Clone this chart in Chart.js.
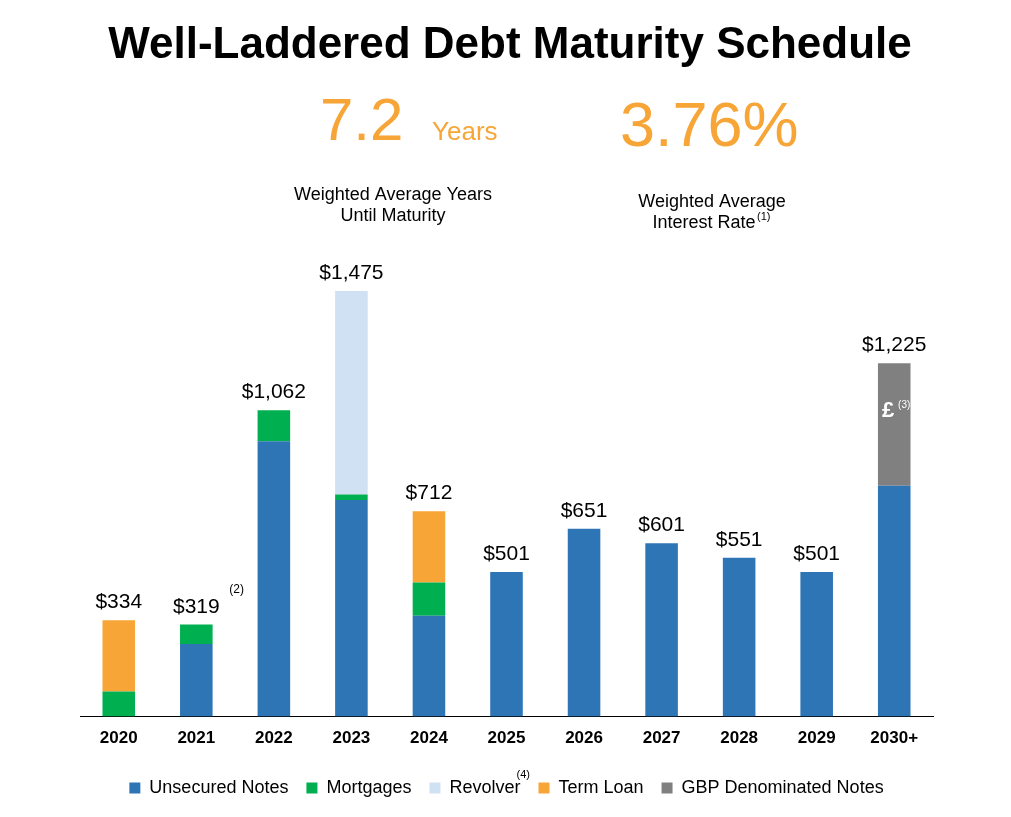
<!DOCTYPE html>
<html><head><meta charset="utf-8">
<script src="https://cdn.jsdelivr.net/npm/chart.js@4/dist/chart.umd.min.js"></script>
<style>html,body{margin:0;background:#fff}#wrap{width:1011px;height:817px}</style>
</head><body><div id="wrap"><canvas id="c"></canvas></div>
<script>
const years = ["2020","2021","2022","2023","2024","2025","2026","2027","2028","2029","2030+"];
const unsecured = [0, 252, 954, 751, 350, 501, 651, 601, 551, 501, 800];
const mortgages = [87, 67, 108, 19, 115, 0, 0, 0, 0, 0, 0];
const revolver = [0, 0, 0, 705, 0, 0, 0, 0, 0, 0, 0];
const termLoan = [247, 0, 0, 0, 247, 0, 0, 0, 0, 0, 0];
const gbp = [0, 0, 0, 0, 0, 0, 0, 0, 0, 0, 425];
const totals = ["$334","$319","$1,062","$1,475","$712","$501","$651","$601","$551","$501","$1,225"];

const FONT = "Arial, 'Liberation Sans', sans-serif";
const ORANGE = "#f7a536";

const overlay = {
  id: "overlay",
  afterDraw(chart) {
    const ctx = chart.ctx;
    ctx.save();
    ctx.fillStyle = "#000";
    ctx.textAlign = "center";
    ctx.textBaseline = "alphabetic";
    ctx.font = "bold 44px " + FONT;
    ctx.fillText("Well-Laddered Debt Maturity Schedule", 510, 58);

    ctx.fillStyle = ORANGE;
    ctx.textAlign = "left";
    ctx.font = "60px " + FONT;
    ctx.fillText("7.2", 320, 140);
    ctx.font = "26px " + FONT;
    ctx.fillText("Years", 432, 140);
    ctx.font = "63px " + FONT;
    ctx.fillText("3.76%", 620, 146);

    ctx.fillStyle = "#000";
    ctx.textAlign = "center";
    ctx.font = "18px " + FONT;
    ctx.fillText("Weighted Average Years", 393, 200);
    ctx.fillText("Until Maturity", 393, 221);
    ctx.fillText("Weighted Average", 712, 207);
    ctx.fillText("Interest Rate", 704, 228);
    ctx.font = "11px " + FONT;
    ctx.textAlign = "left";
    ctx.fillText("(1)", 757, 220);

    const meta = chart.getDatasetMeta(0);
    const y = chart.scales.y;
    ctx.font = "21px " + FONT;
    ctx.textAlign = "center";
    totals.forEach((t, i) => {
      const sum = unsecured[i] + mortgages[i] + revolver[i] + termLoan[i] + gbp[i];
      ctx.fillText(t, meta.data[i].x, y.getPixelForValue(sum) - 12);
    });
    ctx.font = "12px " + FONT;
    ctx.textAlign = "left";
    ctx.fillText("(2)", meta.data[1].x + 33, 593);

    // pound sign on GBP bar
    const gx = meta.data[10].x;
    const gy = y.getPixelForValue(unsecured[10] + gbp[10] * 0.56);
    ctx.fillStyle = "#fff";
    ctx.font = "bold 22px " + FONT;
    ctx.textAlign = "center";
    ctx.fillText("£", gx - 6, gy);
    ctx.font = "10px " + FONT;
    ctx.fillText("(3)", gx + 10, gy - 9);

    ctx.fillStyle = "#000";
    ctx.font = "11px " + FONT;
    ctx.textAlign = "left";
    const lg = chart.legend;
    if (lg && lg.legendHitBoxes && lg.legendHitBoxes[2]) {
      const b = lg.legendHitBoxes[2];
      ctx.fillText("(4)", b.left + b.width - 4, b.top - 1);
    }
    ctx.restore();
  }
};

new Chart(document.getElementById("c"), {
  type: "bar",
  data: {
    labels: years,
    datasets: [
      { label: "Unsecured Notes", data: unsecured, backgroundColor: "#2e75b6" },
      { label: "Mortgages", data: mortgages, backgroundColor: "#00b050" },
      { label: "Revolver", data: revolver, backgroundColor: "#cfe1f2" },
      { label: "Term Loan", data: termLoan, backgroundColor: ORANGE },
      { label: "GBP Denominated Notes", data: gbp, backgroundColor: "#808080" },
    ],
  },
  options: {
    responsive: true,
    maintainAspectRatio: false,
    animation: false,
    layout: { padding: { top: 255, left: 80, right: 78, bottom: 10 } },
    datasets: { bar: { barPercentage: 0.42, categoryPercentage: 1 } },
    scales: {
      x: {
        stacked: true,
        grid: { display: false, drawTicks: false },
        border: { color: "#000", width: 1 },
        ticks: { color: "#000", font: { family: FONT, size: 17, weight: "bold" }, padding: 12 },
      },
      y: { stacked: true, display: false, min: 0, max: 1600 },
    },
    plugins: {
      legend: {
        position: "bottom",
        labels: {
          color: "#000",
          font: { family: FONT, size: 18 },
          boxWidth: 11, boxHeight: 11, padding: 18,
        },
      },
      tooltip: { enabled: false },
    },
  },
  plugins: [overlay],
});
</script></body></html>
